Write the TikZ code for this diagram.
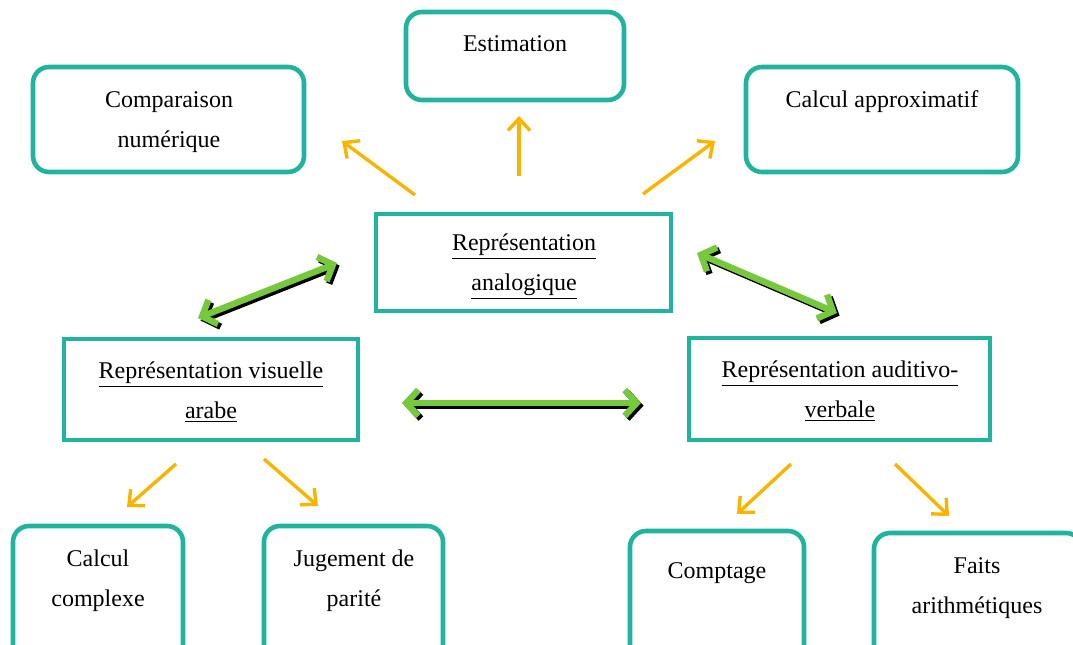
\documentclass[tikz,border=0pt]{standalone}
\usepackage{fontspec}
\setmainfont{Liberation Serif}
\usetikzlibrary{arrows.meta,fit}
\definecolor{teal1}{RGB}{32,180,158}
\definecolor{orng}{RGB}{250,180,0}
\definecolor{grn}{RGB}{118,200,60}
\tikzset{
  rbox/.style={draw=teal1, line width=2.3pt, rounded corners=8pt, inner sep=0pt},
  sbox/.style={draw=teal1, line width=2.3pt, inner sep=0pt},
  txt/.style={align=center, font=\fontsize{12}{20}\selectfont, inner sep=0pt},
  oarrow/.style={draw=orng, line width=1.7pt, -{Straight Barb[length=6pt,width=11pt,line width=1.7pt]}},
  garrow/.style={draw=grn, line width=3.2pt, {Straight Barb[length=6pt,width=13pt]}-{Straight Barb[length=6pt,width=13pt]}},
  sharrow/.style={draw=black, line width=3.2pt, {Straight Barb[length=6pt,width=13pt]}-{Straight Barb[length=6pt,width=13pt]}, transform canvas={shift={(1.3pt,-1.3pt)}}}
}
\newcommand{\ul}[1]{\underline{#1}}
\begin{document}
\begin{tikzpicture}[x=0.5pt,y=-0.5pt]
\useasboundingbox (0,0) rectangle (1073,644);
% boxes
\node[rbox, fit={(406,12) (624,100)}] (est) {};
\node[rbox, fit={(33,67) (304,172)}] (comp) {};
\node[rbox, fit={(746,67) (1018,172)}] (calc) {};
\node[sbox, fit={(376,214) (671,311)}] (ana) {};
\node[sbox, fit={(64,339) (358,440)}] (vis) {};
\node[sbox, fit={(689,338) (990,440)}] (aud) {};
\node[rbox, fit={(13,526) (183,670)}] (cc) {};
\node[rbox, fit={(264,526) (443,670)}] (jp) {};
\node[rbox, fit={(630,531) (804,670)}] (cpt) {};
\node[rbox, fit={(874,533) (1082,670)}] (fa) {};
% texts
\node[txt] (testim) at (515,44) {Estimation};
\node[txt] (tcomp) at (169,122) {Comparaison\\numérique};
\node[txt] (tcalc) at (882,102) {Calcul approximatif};
\node[txt] (tana) at (524,267) {\ul{Représentation}\\\ul{analogique}};
\node[txt] (tvis) at (211,392) {\ul{Représentation visuelle}\\\ul{arabe}};
\node[txt] (taud) at (840,391) {\ul{Représentation auditivo-}\\\ul{verbale}};
\node[txt] (tcc) at (98,581) {Calcul\\complexe};
\node[txt] (tjp) at (354,581) {Jugement de\\parité};
\node[txt] (tcpt) at (717,573) {Comptage};
\node[txt] (tfa) at (977,588) {Faits\\arithmétiques};
% orange arrow endpoints
\coordinate (o1a) at (415,195); \coordinate (o1b) at (342,141);
\coordinate (o2a) at (519,176); \coordinate (o2b) at (519,116);
\coordinate (o3a) at (643,194); \coordinate (o3b) at (715,141);
\coordinate (o4a) at (176,464); \coordinate (o4b) at (127,507);
\coordinate (o5a) at (264,459); \coordinate (o5b) at (318,506);
\coordinate (o6a) at (791,464); \coordinate (o6b) at (737,514);
\coordinate (o7a) at (895,464); \coordinate (o7b) at (949,516);
\foreach \i in {1,...,7} {\draw[oarrow] (o\i a) -- (o\i b);}
% green double arrows
\coordinate (g1a) at (198,318); \coordinate (g1b) at (337,263);
\coordinate (g2a) at (402,403); \coordinate (g2b) at (641,403);
\coordinate (g3a) at (697,253); \coordinate (g3b) at (837,313);
\foreach \i in {1,2,3} {\draw[sharrow] (g\i a) -- (g\i b);}
\foreach \i in {1,2,3} {\draw[garrow] (g\i a) -- (g\i b);}
\end{tikzpicture}
\end{document}
